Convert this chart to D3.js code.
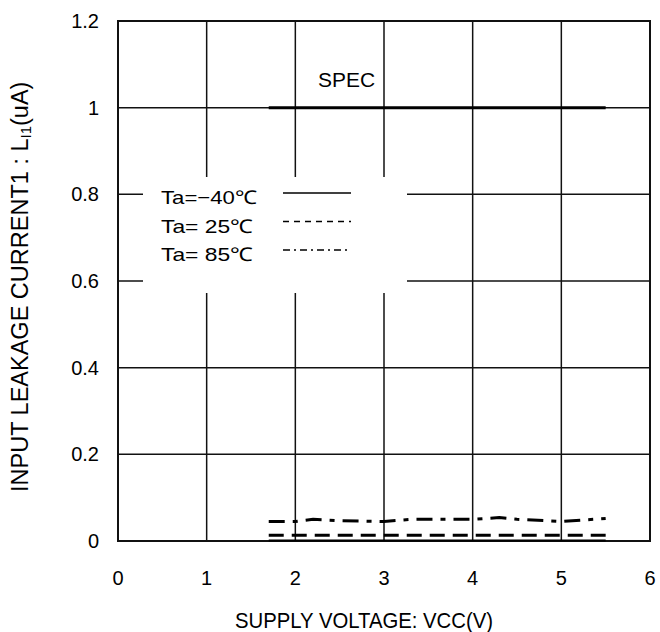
<!DOCTYPE html>
<html><head><meta charset="utf-8">
<script src="https://cdn.jsdelivr.net/npm/d3@7"></script>
<style>body{margin:0;background:#fff}svg{font-family:"Liberation Sans",Arial,sans-serif}</style>
</head><body>
<svg id="c" width="660" height="632"></svg>
<script>
const xTicks = [0,1,2,3,4,5,6];
const yTicks = [0,0.2,0.4,0.6,0.8,1.0,1.2];
const yTickLabels = ["0","0.2","0.4","0.6","0.8","1","1.2"];
const vcc = [1.7,2.0,2.2,2.5,3.0,3.3,3.5,4.0,4.3,4.5,5.0,5.5];
const ta_m40 = [0.001,0.001,0.001,0.001,0.001,0.001,0.001,0.001,0.001,0.001,0.001,0.001];
const ta_25 = [0.013,0.013,0.013,0.013,0.013,0.013,0.013,0.013,0.013,0.013,0.013,0.013];
const ta_85 = [0.045,0.045,0.05,0.047,0.045,0.05,0.05,0.05,0.054,0.05,0.045,0.052];
const specX = [1.7,5.5];
const specY = [1.0,1.0];
const legendLabels = ["Ta=\u221240\u2103","Ta= 25\u2103","Ta= 85\u2103"];
const legendWidths = [96,92,92];
const dashes = [null,"6,5","7,4,2,4"];

const svg = d3.select("#c");
const x = d3.scaleLinear().domain([0,6]).range([118,650]);
const y = d3.scaleLinear().domain([0,1.2]).range([541,21]);

// grid
svg.append("g").selectAll("line").data(xTicks.slice(1,-1)).join("line")
  .attr("x1",d=>x(d)).attr("x2",d=>x(d)).attr("y1",y(0)).attr("y2",y(1.2))
  .attr("stroke","#111").attr("stroke-width",1.5);
svg.append("g").selectAll("line").data(yTicks.slice(1,-1)).join("line")
  .attr("x1",x(0)).attr("x2",x(6)).attr("y1",d=>y(d)).attr("y2",d=>y(d))
  .attr("stroke","#111").attr("stroke-width",1.5);

// legend box (white, covers grid)
svg.append("rect").attr("x",143).attr("y",177).attr("width",264).attr("height",116).attr("fill","#fff");

// border
svg.append("rect").attr("x",x(0)).attr("y",y(1.2)).attr("width",x(6)-x(0)).attr("height",y(0)-y(1.2))
  .attr("fill","none").attr("stroke","#111").attr("stroke-width",2);

// tick labels
svg.append("g").selectAll("text").data(yTicks).join("text")
  .attr("x",99).attr("y",d=>y(d)+7).attr("text-anchor","end").attr("font-size",20).text((d,i)=>yTickLabels[i]);
svg.append("g").selectAll("text").data(xTicks).join("text")
  .attr("x",d=>x(d)).attr("y",585).attr("text-anchor","middle").attr("font-size",20).text(d=>d);

// axis titles
svg.append("text").attr("x",235).attr("y",628).attr("font-size",22)
  .attr("textLength",258).attr("lengthAdjust","spacingAndGlyphs").text("SUPPLY VOLTAGE: VCC(V)");
const yt = svg.append("text").attr("font-size",23.5);
yt.append("tspan").text("INPUT LEAKAGE CURRENT1 : L");
yt.append("tspan").attr("font-size",15).attr("dy",3).text("I1");
yt.append("tspan").attr("dy",-3).text("(uA)");
// place so text runs from y=492 (start) upward
yt.attr("transform","translate(28,492) rotate(-90)");

// spec
const line = d3.line().x(d=>x(d[0])).y(d=>y(d[1]));
svg.append("path").attr("d",line(specX.map((v,i)=>[v,specY[i]]))).attr("stroke","#000").attr("stroke-width",3).attr("fill","none");
svg.append("text").attr("x",318).attr("y",87).attr("font-size",20).attr("textLength",57).attr("lengthAdjust","spacingAndGlyphs").text("SPEC");

// data
const series = [ta_m40, ta_25, ta_85];
series.forEach((s,i)=>{
  svg.append("path").attr("d",line(vcc.map((v,j)=>[v,s[j]])))
    .attr("stroke","#000").attr("stroke-width",i===0?2:3).attr("fill","none")
    .attr("stroke-dasharray",i===0?null:(i===1?"15,8":"16,8,5,8"));
});

// legend
const lg = svg.append("g");
legendLabels.forEach((t,i)=>{
  const cy = 193 + i*28.5;
  lg.append("text").attr("x",161).attr("y",cy+11).attr("font-size",19)
    .attr("textLength",legendWidths[i]).attr("lengthAdjust","spacingAndGlyphs").text(t);
  const l = lg.append("line").attr("x1",283).attr("x2",351).attr("y1",cy).attr("y2",cy)
    .attr("stroke","#000").attr("stroke-width",1.5);
  if(dashes[i]) l.attr("stroke-dasharray",dashes[i]);
});
</script>
</body></html>
